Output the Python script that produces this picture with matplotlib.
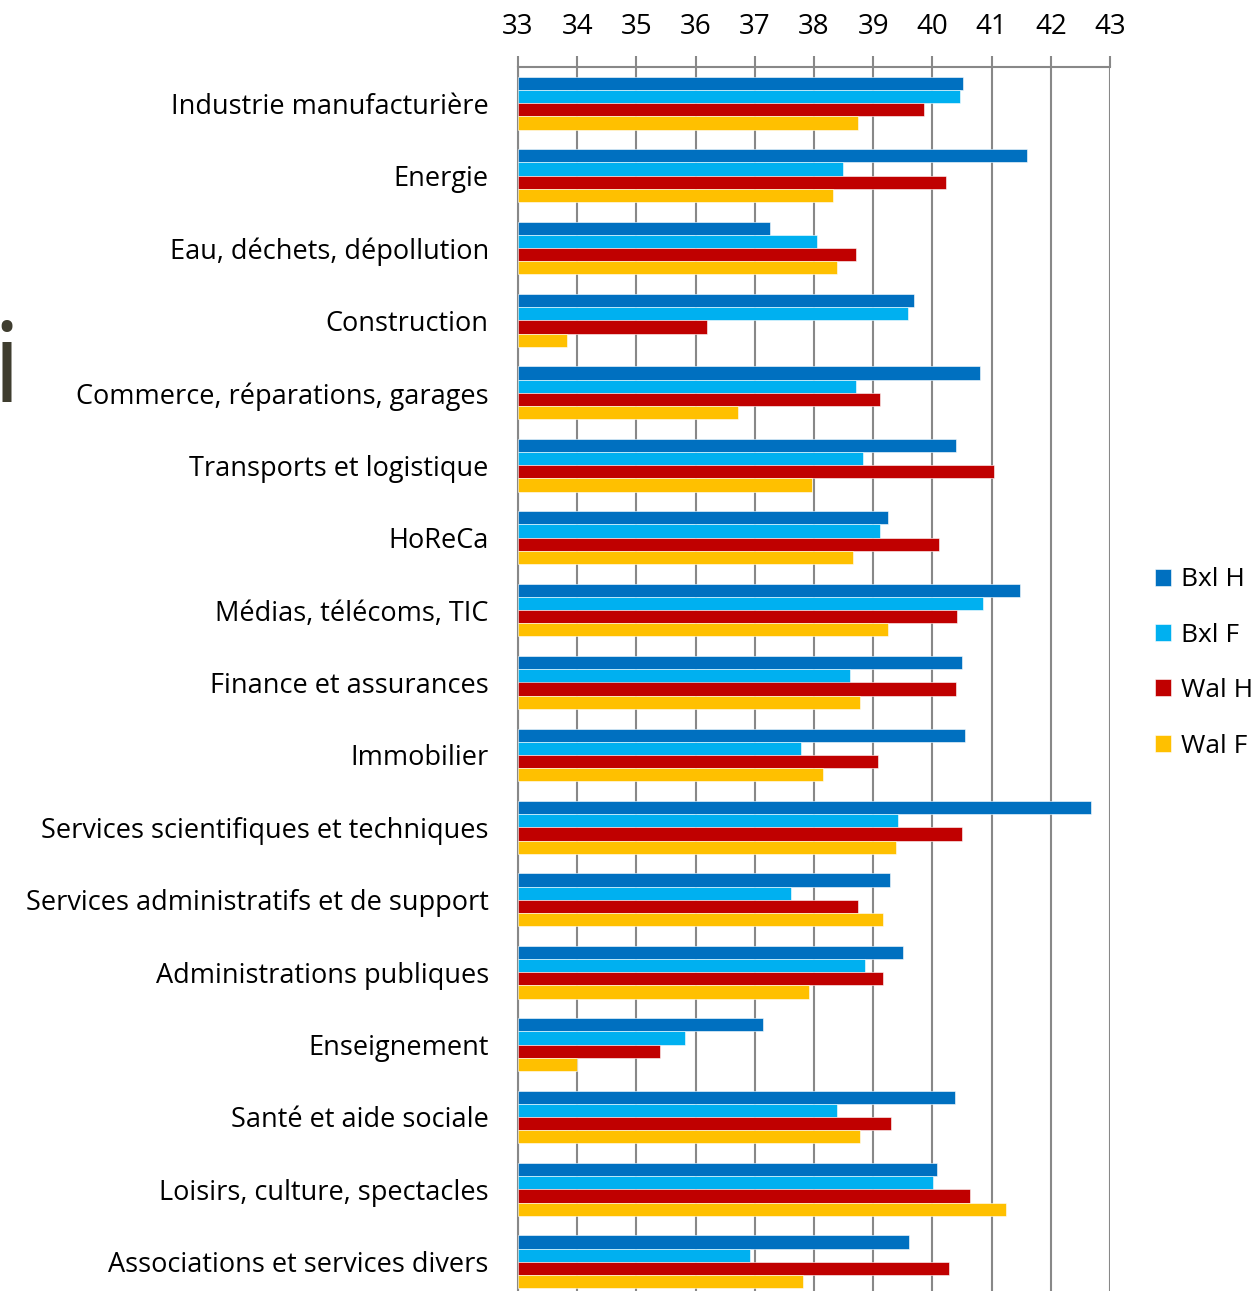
import numpy as np
import matplotlib.pyplot as plt

# categories, top to bottom
sectors = ['Industrie manufacturière', 'Energie', 'Eau, déchets, dépollution',
           'Construction', 'Commerce, réparations, garages', 'Transports et logistique',
           'HoReCa', 'Médias, télécoms, TIC', 'Finance et assurances', 'Immobilier',
           'Services scientifiques et techniques', 'Services administratifs et de support',
           'Administrations publiques', 'Enseignement', 'Santé et aide sociale',
           'Loisirs, culture, spectacles', 'Associations et services divers']

bxl_h = [40.51, 41.60, 37.26, 39.69, 40.80, 40.40, 39.25, 41.48, 40.50, 40.55,
         42.68, 39.28, 39.50, 37.14, 40.38, 40.08, 39.60]
bxl_f = [40.47, 38.49, 38.05, 39.59, 38.71, 38.83, 39.11, 40.85, 38.61, 37.78,
         39.42, 37.61, 38.86, 35.82, 38.39, 40.01, 36.92]
wal_h = [39.86, 40.23, 38.71, 36.19, 39.11, 41.04, 40.11, 40.42, 40.40, 39.08,
         40.50, 38.74, 39.17, 35.40, 39.30, 40.63, 40.28]
wal_f = [38.75, 38.32, 38.39, 33.83, 36.72, 37.97, 38.66, 39.25, 38.78, 38.15,
         39.39, 39.17, 37.92, 34.00, 38.78, 41.24, 37.82]

series = [('Bxl H', bxl_h, '#0070C0'), ('Bxl F', bxl_f, '#00B0F0'),
          ('Wal H', wal_h, '#C00000'), ('Wal F', wal_f, '#FFC000')]

base = 33
plt.rcParams['font.family'] = ['Open Sans', 'DejaVu Sans']

fig = plt.figure(figsize=(12.6, 12.91), dpi=100)
ax = fig.add_axes([518 / 1260, -7 / 1291, 592 / 1260, 1231 / 1291])

y = np.arange(len(sectors))
h = 0.182
for k, (name, vals, col) in enumerate(series):
    vals = np.array(vals)
    ax.barh(y + (k - 1.5) * h, vals - base, left=base, height=h, color=col,
            label=name, edgecolor='white', linewidth=0.4, zorder=3)

ax.set_xlim(33, 43)
ax.set_ylim(len(sectors) - 0.5, -0.5)
ax.set_xticks(range(33, 44))
ax.xaxis.tick_top()
ax.tick_params(axis='x', length=8, width=1.5, color='#888888', labelsize=20, pad=10.5)
ax.tick_params(axis='y', length=0, labelsize=19.5, pad=21)
ax.set_yticks(y)
ax.set_yticklabels(sectors)
ax.grid(axis='x', color='#888888', linewidth=1.5, zorder=0)
for s in ['right', 'bottom']:
    ax.spines[s].set_visible(False)
for s in ['top', 'left']:
    ax.spines[s].set_color('#888888')
    ax.spines[s].set_linewidth(1.5)

leg = fig.legend(loc='center left', bbox_to_anchor=(1131 / 1260, 1 - 663 / 1291),
                 frameon=False, fontsize=19, handlelength=0.62, handleheight=0.62,
                 handletextpad=0.36, labelspacing=1.15)

# stray letter cut at the left edge
fig.text(-0.006, 0.689, 'i', fontsize=80, color='#3F3D2F', va='baseline')

fig.savefig('out.png', dpi=100)
